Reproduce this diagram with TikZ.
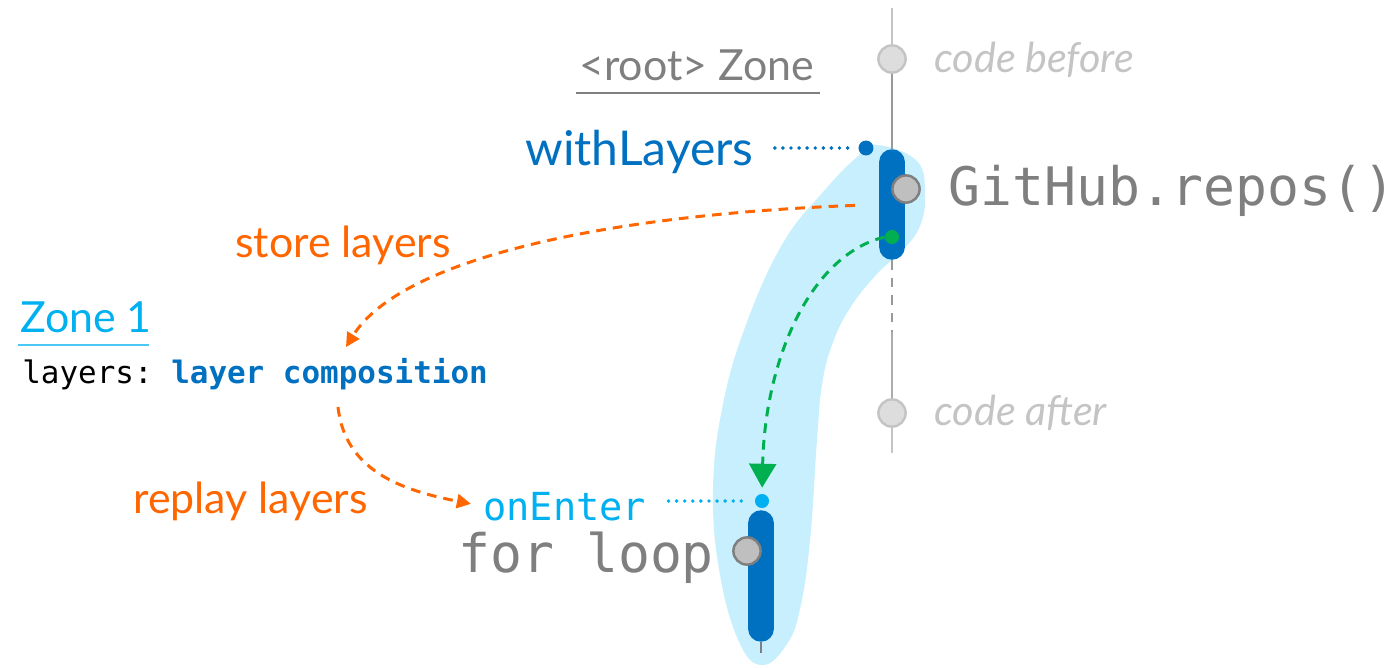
\documentclass[tikz,border=0pt]{standalone}
\usepackage{fontspec}
\setmainfont{Lato}
\setmonofont{DejaVu Sans Mono}
\usetikzlibrary{arrows.meta}
\definecolor{zblue}{HTML}{0070C0}
\definecolor{zcyan}{HTML}{00B0F0}
\definecolor{zorange}{HTML}{FF6600}
\definecolor{zgreen}{HTML}{00B050}
\definecolor{zblob}{HTML}{C8EFFD}
\definecolor{zgray}{HTML}{7F7F7F}
\definecolor{zknob}{HTML}{BFBFBF}
\definecolor{zlight}{HTML}{C4C4C4}
\definecolor{zpale}{HTML}{DDDDDD}

\begin{document}
\begin{tikzpicture}[x=0.02cm,y=-0.02cm,
    txt/.style={inner sep=0pt,anchor=base west},
    label/.style={txt,font=\fontsize{24.4}{24}\selectfont},
    bigcode/.style={txt,font=\fontsize{30.2}{30}\ttfamily,text=zgray},
    knob/.style={circle,draw=zgray,fill=zknob,line width=1.4pt,minimum size=15.5pt,inner sep=0pt},
    tick/.style={circle,draw=zlight,fill=zpale,line width=1.4pt,minimum size=15.5pt,inner sep=0pt},
    bar/.style={rectangle,rounded corners=7.3pt,fill=zblue,minimum width=14.7pt,inner sep=0pt},
    pin/.style={circle,inner sep=0pt,minimum size=8pt},
    dotline/.style={line width=2.2pt,line cap=round,dash pattern=on 0pt off 4.6pt},
    flow/.style={line width=1.7pt,dash pattern=on 5.5pt off 4pt}]

\useasboundingbox (0,0) rectangle (1394,667);

% the zone that follows the call
\fill[zblob] plot[smooth cycle,tension=0.7] coordinates {
  (877,145) (917,161) (925,195) (920,226) (903,250) (877,274) (850,308)
  (832,345) (822,385) (817,440) (810,541) (800,609) (787,644) (763,665)
  (740,644) (720,575) (713,490) (723,404) (747,322) (783,243) (823,192)
  (857,157)};

% root timeline
\coordinate (t0) at (892,8);
\coordinate (tm) at (892,332);
\coordinate (t1) at (892,453);
\node[tick] (cb) at (892,59) {};
\node[bar,minimum height=62.9pt] (topbar) at (892,204.5) {};
\node[tick] (ca) at (892,413) {};
\draw[zlight,line width=1.4pt] (t0) -- (cb);
\draw[gray!80,line width=1.4pt] (cb) -- (topbar);
\draw[gray!80,line width=1.5pt,dash pattern=on 5.5pt off 4.5pt] (topbar) -- (tm);
\draw[gray!65,line width=1.4pt] (tm) -- (ca);
\draw[zlight,line width=1.4pt] (ca) -- (t1);
\node[knob] (gh-k) at (906,189) {};
\node[pin,fill=zgreen] (gdot) at (892,237) {};

% loop timeline
\coordinate (t2) at (761,653);
\node[bar,minimum height=74.8pt] (loopbar) at (761,576) {};
\draw[zgray,line width=1.4pt] (loopbar) -- (t2);
\node[knob] (fl-k) at (747,551) {};
\node[pin,fill=zcyan] (edot) at (762,501) {};
\node[pin,fill=zblue,minimum size=8.5pt] (wldot) at (866,148) {};

% texts
\node[label,text=zgray] (rz) at (579,80) {<root> Zone};
\draw[zgray,line width=0.9pt] ([shift={(-3,13)}]rz.base west) -- ([shift={(6,13)}]rz.base east);
\node[txt,font=\fontsize{23.5}{23}\itshape,text=zlight] (cbt) at (934,72) {code before};
\node[txt,font=\fontsize{23.5}{23}\itshape,text=zlight] (cat) at (934,425) {code after};
\node[bigcode] (gh) at (948,205) {GitHub.repos()};
\node[txt,font=\fontsize{27.3}{27}\selectfont,text=zblue] (wl) at (525,165) {withLayers};
\node[label,text=zorange] (sl) at (235,257) {store layers};
\node[label,text=zcyan] (z1) at (20,332) {Zone 1};
\draw[zcyan!70,line width=1.1pt] ([shift={(-2,13)}]z1.base west) -- ([shift={(-3,13)}]z1.base east);
\node[txt,font=\fontsize{17.6}{17.6}\ttfamily] (lay) at (22,383) {layers: \textbf{\color{zblue}layer composition}};
\node[label,text=zorange] (rl) at (133,513) {replay layers};
\node[txt,font=\fontsize{22}{22}\ttfamily,text=zcyan] (oe) at (483,520) {onEnter};
\node[bigcode] (fl) at (458,572) {for loop};

% connectors
\coordinate (storeend) at (346,347);
\coordinate (replaystart) at (338,407);
\draw[dotline,zblue,shorten <=12pt,shorten >=4pt] (wl.east |- wldot) -- (wldot);
\draw[dotline,zcyan,shorten <=12.5pt,shorten >=4pt] (oe.east |- edot) -- (edot);
\draw[flow,zorange,shorten <=13.6pt,-{Triangle[length=8pt,width=8pt]}] (topbar.west) .. controls (600,215) and (400,260) .. (storeend);
\draw[flow,zorange,shorten >=7pt,-{Triangle[length=8pt,width=8pt]}] (replaystart) .. controls (345,470) and (400,490) .. (oe.west);
\draw[flow,zgreen,shorten >=3.4pt,-{Triangle[length=13.6pt,width=15.3pt]}] (gdot.west) .. controls (810,255) and (765,360) .. (edot.north);
\end{tikzpicture}
\end{document}
